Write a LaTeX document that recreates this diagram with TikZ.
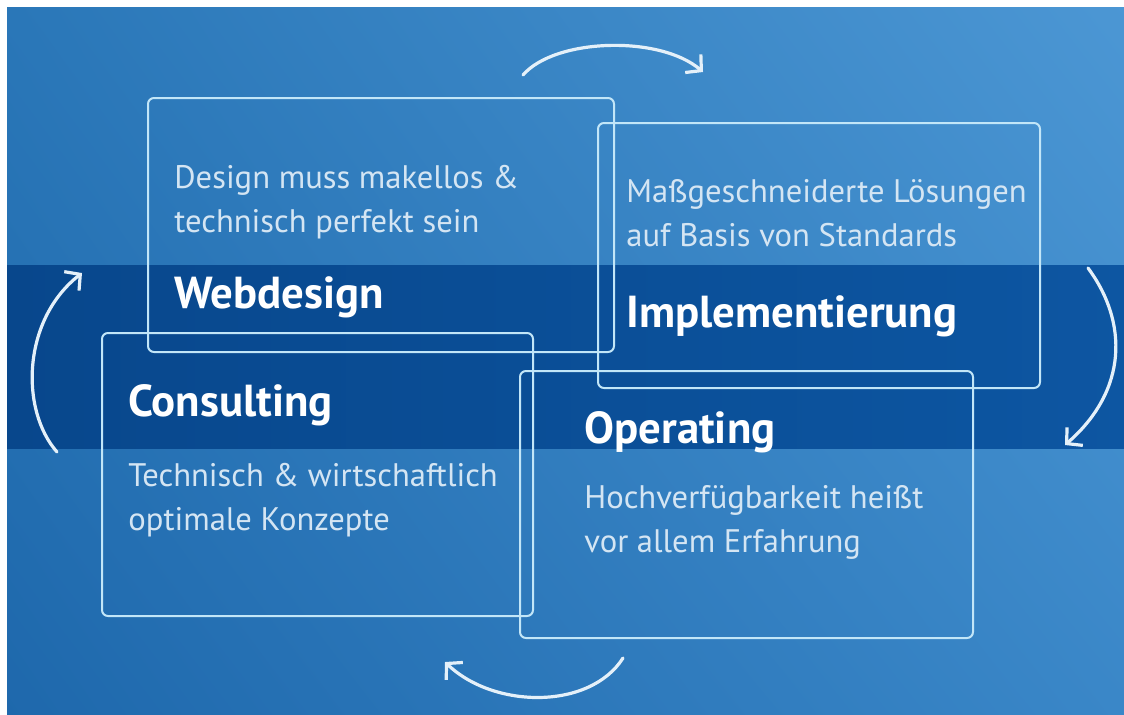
\documentclass[tikz,border=0pt]{standalone}
\usepackage{fontspec}
\setmainfont{PT Sans}
\usepackage{xcolor}
\usetikzlibrary{arrows.meta,fit,shadings}
\definecolor{SkyTL}{HTML}{2A77B8}
\definecolor{SkyTR}{HTML}{4C97D4}
\definecolor{SkyBL}{HTML}{1E68AC}
\definecolor{SkyBR}{HTML}{3A87C8}
\definecolor{BandLeft}{HTML}{08478C}
\definecolor{BandRight}{HTML}{0D56A2}
\definecolor{FrameCyan}{HTML}{C2E6F8}
\definecolor{TextPale}{HTML}{D4E5F3}
\definecolor{ArrowWhite}{HTML}{E4F0F9}

\begin{document}
\begin{tikzpicture}[
  x=0.5pt,y=-0.5pt,
  panel/.style={draw=FrameCyan,line width=1pt,rounded corners=3pt,inner sep=0pt},
  desc/.style={anchor=base west,inner sep=0pt,align=left,text=TextPale,font=\fontsize{16.3}{22}\selectfont},
  title/.style={anchor=base west,inner sep=0pt,text=white,font=\fontsize{22.4}{26}\selectfont\bfseries},
  cyc/.style={-{Straight Barb[length=5.5pt,width=12pt]},draw=ArrowWhite,line width=1.6pt,line cap=round}
]
\useasboundingbox (0,0) rectangle (1124,714);
% background and dark band
\shade[upper left=SkyTL,upper right=SkyTR,lower left=SkyBL,lower right=SkyBR] (7,7) rectangle (1134,724);
\shade[left color=BandLeft,right color=BandRight] (7,265) rectangle (1134,448);

% the four frames
\node[panel,fit={(148,98) (614,352)}] (web) {};
\node[panel,fit={(598,123) (1040,388)}] (impl) {};
\node[panel,fit={(102,333) (533,616)}] (cons) {};
\node[panel,fit={(520,371) (973,638)}] (oper) {};

% texts (base = last line)
\node[desc] (webtxt) at (174,232) {Design muss makellos \&\\technisch perfekt sein};
\node[title] (webname) at (174,308) {Webdesign};
\node[desc] (impltxt) at (626,246) {Maßgeschneiderte Lösungen\\auf Basis von Standards};
\node[title] (implname) at (626,327) {Implementierung};
\node[title] (consname) at (128,416) {Consulting};
\node[desc] (constxt) at (128,530) {Technisch \& wirtschaftlich\\optimale Konzepte};
\node[title] (opname) at (584,443) {Operating};
\node[desc] (optxt) at (584,552) {Hochverfügbarkeit heißt\\vor allem Erfahrung};

% cycle arrows
\coordinate (topA) at (523,75);
\coordinate (topB) at (703,72);
\coordinate (rgtA) at (1088,268);
\coordinate (rgtB) at (1065,445);
\coordinate (botA) at (623,658);
\coordinate (botB) at (445,662);
\coordinate (lftA) at (57,452);
\coordinate (lftB) at (82,273);
\draw[cyc] (topA) .. controls (555,38) and (660,35) .. (topB);
\draw[cyc] (rgtA) .. controls (1128,322) and (1128,390) .. (rgtB);
\draw[cyc] (botA) .. controls (590,710) and (494,709) .. (botB);
\draw[cyc] (lftA) .. controls (20,410) and (22,320) .. (lftB);
\end{tikzpicture}
\end{document}
